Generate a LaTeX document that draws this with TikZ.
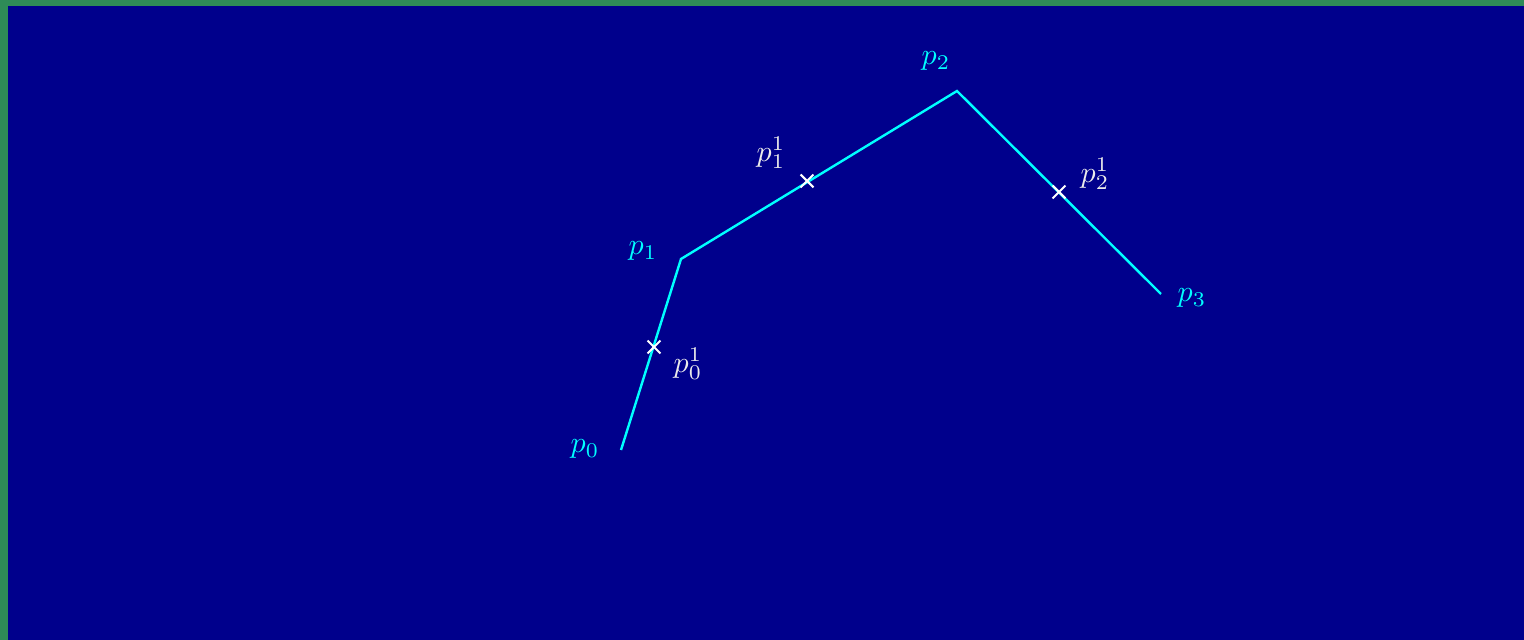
\documentclass[tikz,border=0pt]{standalone}
\usetikzlibrary{shapes.misc}
\definecolor{bgblue}{RGB}{0,0,140}
\definecolor{frame}{RGB}{46,139,87}
\definecolor{lblwhite}{RGB}{235,235,235}
\definecolor{aqua}{RGB}{0,255,255}
\tikzset{
  poly/.style={aqua, line width=0.8pt},
  crossmark/.style={cross out, draw=white, line width=0.7pt, minimum size=3.6pt, inner sep=0pt},
  ptlabel/.style={text=aqua, inner sep=0pt},
  midlabel/.style={text=lblwhite, inner sep=0pt}
}
\begin{document}
\begin{tikzpicture}[x=0.3333pt, y=-0.3333pt]
\fill[frame] (0,0) rectangle (1524,640);
\fill[bgblue] (8,6) rectangle (1524,640);
\useasboundingbox (0,0) rectangle (1524,640);
\coordinate (p0) at (621,450);
\coordinate (p1) at (681,259);
\coordinate (p2) at (957,91);
\coordinate (p3) at (1161,294);
\draw[poly, line join=miter] (p0) -- (p1) -- (p2) -- (p3);
\node[crossmark] (m0) at (654,347) {};
\node[crossmark] (m1) at (807,181) {};
\node[crossmark] (m2) at (1059,192) {};
\node[ptlabel] (l0) at (585,449) {$p_0$};
\node[ptlabel] (l1) at (643,251) {$p_1$};
\node[ptlabel] (l2) at (936,61) {$p_2$};
\node[ptlabel] (l3) at (1192,298) {$p_3$};
\node[midlabel] (n0) at (688,364) {$p_0^1$};
\node[midlabel] (n1) at (771,153) {$p_1^1$};
\node[midlabel] (n2) at (1095,174) {$p_2^1$};
\end{tikzpicture}
\end{document}
